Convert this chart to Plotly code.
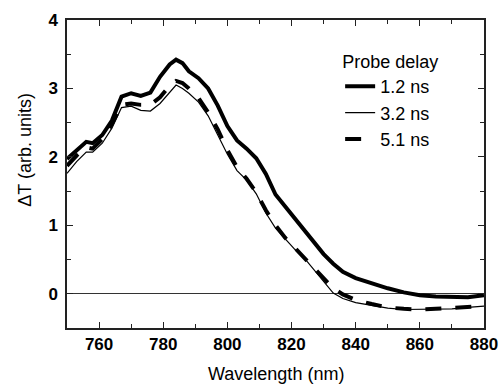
import plotly.graph_objects as go

wavelength = [750, 753, 756, 758, 761, 764, 767, 770, 773, 776, 779, 782, 784, 786, 788,
              791, 794, 797, 800, 803, 806, 809, 812, 815, 818, 821, 824, 827, 830, 833,
              836, 840, 845, 850, 855, 860, 865, 870, 875, 880]

dt_1_2ns = [1.97, 2.10, 2.22, 2.20, 2.32, 2.53, 2.88, 2.93, 2.89, 2.94, 3.17, 3.35, 3.42, 3.37, 3.25,
            3.15, 3.00, 2.75, 2.45, 2.24, 2.12, 1.98, 1.75, 1.45, 1.28, 1.10, 0.93, 0.76, 0.58, 0.44,
            0.32, 0.23, 0.15, 0.08, 0.02, -0.02, -0.04, -0.05, -0.05, -0.02]

dt_3_2ns = [1.76, 1.93, 2.07, 2.07, 2.20, 2.42, 2.72, 2.74, 2.68, 2.67, 2.78, 2.95, 3.05, 3.00, 2.93,
            2.80, 2.60, 2.32, 2.04, 1.80, 1.66, 1.46, 1.18, 0.96, 0.80, 0.65, 0.52, 0.35, 0.18, 0.01,
            -0.07, -0.13, -0.17, -0.21, -0.23, -0.23, -0.23, -0.22, -0.20, -0.18]

dt_5_1ns = [1.87, 2.02, 2.14, 2.12, 2.26, 2.48, 2.76, 2.78, 2.76, 2.76, 2.87, 3.04, 3.11, 3.08, 3.00,
            2.86, 2.65, 2.40, 2.10, 1.85, 1.68, 1.48, 1.22, 1.00, 0.82, 0.67, 0.54, 0.38, 0.22, 0.08,
            -0.01, -0.09, -0.15, -0.20, -0.22, -0.23, -0.22, -0.21, -0.20, -0.18]

series_names = ["1.2 ns", "3.2 ns", "5.1 ns"]
x_ticks = [760, 780, 800, 820, 840, 860, 880]
y_ticks = [0, 1, 2, 3, 4]

FONT = "Liberation Sans, Arial, sans-serif"

fig = go.Figure()
fig.add_trace(go.Scatter(x=wavelength, y=dt_1_2ns, name=series_names[0], mode="lines",
                         line=dict(color="black", width=4)))
fig.add_trace(go.Scatter(x=wavelength, y=dt_3_2ns, name=series_names[1], mode="lines",
                         line=dict(color="black", width=1.2)))
fig.add_trace(go.Scatter(x=wavelength, y=dt_5_1ns, name=series_names[2], mode="lines",
                         line=dict(color="black", width=4, dash="16px,14px")))

axis_common = dict(
    showline=True, linecolor="#222", linewidth=1.5, mirror="allticks",
    ticks="inside", ticklen=6, tickwidth=1.2, tickcolor="#222",
    showgrid=False, automargin=False,
    tickfont=dict(family=FONT, size=17, color="black", weight="bold"),
)

fig.update_xaxes(
    range=[750, 880], tickvals=x_ticks, ticktext=[str(v) for v in x_ticks],
    minor=dict(dtick=10, ticks="inside", ticklen=4, tickcolor="#222", tickwidth=1.2),
    zeroline=False, ticklabelstandoff=0,
    **axis_common,
)
fig.update_yaxes(
    range=[-0.5, 4], tickvals=y_ticks, ticktext=[str(v) for v in y_ticks],
    minor=dict(dtick=0.5, tick0=0, ticks="inside", ticklen=4, tickcolor="#222", tickwidth=1.2),
    zeroline=True, zerolinecolor="#333", zerolinewidth=1,
    ticklabelstandoff=4,
    **axis_common,
)

fig.add_annotation(
    text="Wavelength (nm)", xref="paper", yref="paper",
    x=0.5, y=-0.148, xanchor="center", yanchor="middle", showarrow=False,
    font=dict(family=FONT, size=18, color="black"),
)
fig.add_annotation(
    text="\u0394T (arb. units)", textangle=-90, xref="paper", yref="paper",
    x=-0.1, y=0.58, xanchor="center", yanchor="middle", showarrow=False,
    font=dict(family=FONT, size=18, color="black"),
)

fig.update_layout(
    width=500, height=385,
    margin=dict(l=67, r=16, t=20, b=57),
    paper_bgcolor="white", plot_bgcolor="white",
    showlegend=True,
    legend=dict(
        x=0.655, y=0.92, xanchor="left", yanchor="top",
        bgcolor="rgba(0,0,0,0)",
        font=dict(family=FONT, size=18, color="black"),
        title=dict(text="Probe delay", font=dict(family=FONT, size=18, color="black")),
        tracegroupgap=0, itemwidth=30,
    ),
)

fig.write_html("out.html", config={"displayModeBar": False})

# remove default page margin so the figure sits at the window's top-left corner
with open("out.html", encoding="utf-8") as f:
    html = f.read()
html = html.replace("<body>", '<body style="margin:0;padding:0;overflow:hidden">', 1)
with open("out.html", "w", encoding="utf-8") as f:
    f.write(html)
